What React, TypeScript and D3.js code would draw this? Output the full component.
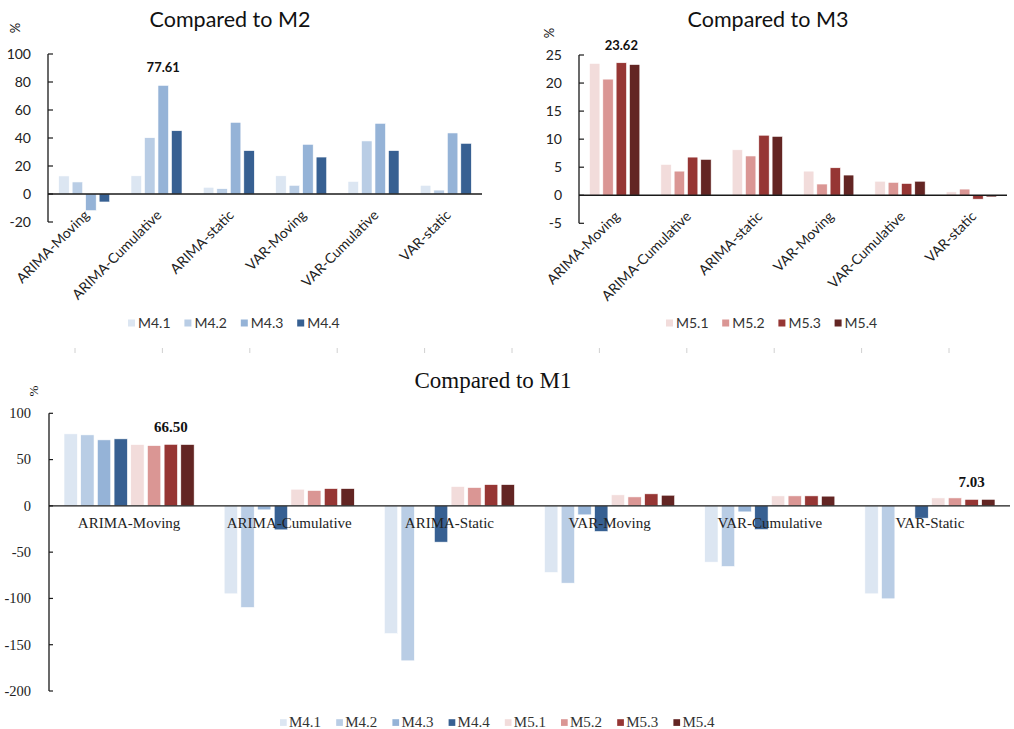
import React from 'react';
import * as d3 from 'd3';

const categoriesTop = ['ARIMA-Moving', 'ARIMA-Cumulative', 'ARIMA-static', 'VAR-Moving', 'VAR-Cumulative', 'VAR-static'];
const categoriesBottom = ['ARIMA-Moving', 'ARIMA-Cumulative', 'ARIMA-Static', 'VAR-Moving', 'VAR-Cumulative', 'VAR-Static'];
const seriesM4 = ['M4.1', 'M4.2', 'M4.3', 'M4.4'];
const seriesM5 = ['M5.1', 'M5.2', 'M5.3', 'M5.4'];

// Compared to M2
const m2_M41 = [12.9, 13.0, 4.8, 13.0, 9.0, 6.2];
const m2_M42 = [8.6, 40.2, 3.8, 6.2, 37.9, 2.8];
const m2_M43 = [-11.9, 77.61, 51.2, 35.5, 50.5, 43.6];
const m2_M44 = [-5.7, 45.2, 31.0, 26.4, 31.0, 36.2];

// Compared to M3
const m3_M51 = [23.5, 5.5, 8.1, 4.3, 2.5, 0.6];
const m3_M52 = [20.7, 4.3, 7.0, 2.0, 2.3, 1.1];
const m3_M53 = [23.62, 6.8, 10.7, 4.9, 2.1, -0.7];
const m3_M54 = [23.3, 6.4, 10.5, 3.6, 2.5, -0.3];

// Compared to M1
const m1_M41 = [77.8, -95.0, -138.0, -72.0, -60.8, -95.0];
const m1_M42 = [76.7, -109.8, -167.4, -83.5, -65.5, -100.4];
const m1_M43 = [71.3, -4.3, 0, -9.7, -6.5, 0];
const m1_M44 = [72.4, -25.9, -39.2, -27.7, -25.6, -13.3];
const m1_M51 = [66.2, 18.0, 20.9, 11.9, 10.8, 8.6];
const m1_M52 = [65.1, 16.6, 19.8, 9.7, 10.8, 8.6];
const m1_M53 = [66.5, 18.7, 23.0, 13.0, 10.8, 7.03];
const m1_M54 = [66.3, 18.7, 23.0, 11.5, 10.5, 7.1];

const ticksM2 = [-20, 0, 20, 40, 60, 80, 100];
const ticksM3 = [-5, 0, 5, 10, 15, 20, 25];
const ticksM1 = [-200, -150, -100, -50, 0, 50, 100];

const annotM2 = [{ series: 'M4.3', category: 'ARIMA-Cumulative', text: '77.61' }];
const annotM3 = [{ series: 'M5.3', category: 'ARIMA-Moving', text: '23.62' }];
const annotM1 = [
  { series: 'M5.3', category: 'ARIMA-Moving', text: '66.50' },
  { series: 'M5.3', category: 'VAR-Static', text: '7.03' },
];

const colorsM4 = ['#DCE6F2', '#B9CDE5', '#95B3D7', '#376092'];
const colorsM5 = ['#F2DCDB', '#DA9694', '#963634', '#632523'];

const SANS = 'Lato, "Open Sans", sans-serif';
const SERIF = '"Liberation Serif", "Times New Roman", serif';
const AXIS = '#1a1a1a';

type Panel = {
  title: string;
  titleX: number;
  titleY: number;
  categories: string[];
  series: string[];
  colors: string[];
  rows: number[][];
  ticks: number[];
  xRange: [number, number];
  yRange: [number, number];
  legendX: number;
  legendStep: number;
  legendY: number;
  annots: { series: string; category: string; text: string }[];
  pct: [number, number];
};

function TopPanel(p: Panel) {
  const x = d3.scaleBand<string>().domain(p.categories).range(p.xRange).paddingInner(0).paddingOuter(0);
  const xs = d3.scaleBand<string>().domain(p.series).range([0, x.bandwidth()]).paddingInner(0.22).paddingOuter(0.79);
  const y = d3.scaleLinear().domain([p.ticks[0], p.ticks[p.ticks.length - 1]]).range(p.yRange);
  const ax = p.xRange[0];
  return (
    <g>
      <text x={p.titleX} y={p.titleY} textAnchor="middle" fontFamily={SANS} fontSize={21.5} fill="#111">{p.title}</text>
      <text transform={`translate(${p.pct[0]},${p.pct[1]}) rotate(-90)`} textAnchor="middle" fontFamily={SANS} fontSize={13} fill="#111">%</text>
      {p.series.map((s, si) =>
        p.categories.map((c, ci) => {
          const v = p.rows[si][ci];
          const bx = (x(c) as number) + (xs(s) as number);
          return (
            <rect key={s + c} x={bx} width={xs.bandwidth()} y={Math.min(y(v), y(0))} height={Math.abs(y(v) - y(0))}
              fill={p.colors[si]} stroke="#fff" strokeWidth={0.6} />
          );
        })
      )}
      <line x1={ax} x2={ax} y1={y(p.ticks[0])} y2={y(p.ticks[p.ticks.length - 1])} stroke={AXIS} strokeWidth={1.3} />
      <line x1={ax} x2={p.xRange[1]} y1={y(0)} y2={y(0)} stroke={AXIS} strokeWidth={1.3} />
      {p.ticks.map(t => (
        <g key={t}>
          <line x1={ax} x2={ax + 5} y1={y(t)} y2={y(t)} stroke={AXIS} strokeWidth={1.2} />
          <text x={ax - 17} y={y(t)} dy="0.35em" textAnchor="end" fontFamily={SANS} fontSize={14} fill="#222">{t}</text>
        </g>
      ))}
      {p.categories.map(c => (
        <text key={c} transform={`translate(${(x(c) as number) + x.bandwidth() / 2 + 6},${y(0) + 22}) rotate(-45)`}
          textAnchor="end" fontFamily={SANS} fontSize={14} fill="#222">{c}</text>
      ))}
      {p.annots.map(a => {
        const si = p.series.indexOf(a.series);
        const ci = p.categories.indexOf(a.category);
        const cx = (x(a.category) as number) + (xs(a.series) as number) + xs.bandwidth() / 2;
        return (
          <text key={a.text} x={cx} y={y(p.rows[si][ci]) - 13} textAnchor="middle" fontFamily={SANS} fontWeight="bold" fontSize={13} fill="#111">{a.text}</text>
        );
      })}
      {p.series.map((s, i) => (
        <g key={s} transform={`translate(${p.legendX + i * p.legendStep},${p.legendY})`}>
          <rect x={0} y={-3.5} width={7} height={7} fill={p.colors[i]} />
          <text x={10} y={0} dy="0.36em" fontFamily={SANS} fontSize={14} fill="#333">{s}</text>
        </g>
      ))}
    </g>
  );
}

function BottomPanel() {
  const series = [...seriesM4, ...seriesM5];
  const colors = [...colorsM4, ...colorsM5];
  const rows = [m1_M41, m1_M42, m1_M43, m1_M44, m1_M51, m1_M52, m1_M53, m1_M54];
  const x = d3.scaleBand<string>().domain(categoriesBottom).range([49, 1010]).paddingInner(0).paddingOuter(0);
  const xs = d3.scaleBand<string>().domain(series).range([0, x.bandwidth()]).paddingInner(0.2).paddingOuter(0.9);
  const y = d3.scaleLinear().domain([ticksM1[0], ticksM1[ticksM1.length - 1]]).range([691, 413.3]);
  const ax = 49;
  return (
    <g>
      <text x={493} y={388} textAnchor="middle" fontFamily={SERIF} fontSize={23} fill="#111">Compared to M1</text>
      <text transform={`translate(38,391) rotate(-90)`} textAnchor="middle" fontFamily={SERIF} fontSize={13} fill="#111">%</text>
      {series.map((s, si) =>
        categoriesBottom.map((c, ci) => {
          const v = rows[si][ci];
          const bx = (x(c) as number) + (xs(s) as number);
          return (
            <rect key={s + c} x={bx} width={xs.bandwidth()} y={Math.min(y(v), y(0))} height={Math.abs(y(v) - y(0))}
              fill={colors[si]} stroke="#fff" strokeWidth={0.6} />
          );
        })
      )}
      <line x1={ax} x2={ax} y1={y(ticksM1[0])} y2={y(ticksM1[ticksM1.length - 1])} stroke={AXIS} strokeWidth={1.3} />
      <line x1={ax} x2={1010} y1={y(0)} y2={y(0)} stroke={AXIS} strokeWidth={1.3} />
      {ticksM1.map(t => (
        <g key={t}>
          <line x1={ax} x2={ax + 4} y1={y(t)} y2={y(t)} stroke={AXIS} strokeWidth={1.2} />
          <text x={ax - 18} y={y(t)} dy="0.33em" textAnchor="end" fontFamily={SERIF} fontSize={14.5} fill="#222">{t}</text>
        </g>
      ))}
      {categoriesBottom.map(c => (
        <text key={c} x={(x(c) as number) + x.bandwidth() / 2} y={y(0) + 22} textAnchor="middle" fontFamily={SERIF} fontSize={15} fill="#222">{c}</text>
      ))}
      {annotM1.map(a => {
        const si = series.indexOf(a.series);
        const ci = categoriesBottom.indexOf(a.category);
        const cx = (x(a.category) as number) + (xs(a.series) as number) + xs.bandwidth() / 2;
        return (
          <text key={a.text} x={cx} y={y(rows[si][ci]) - 12} textAnchor="middle" fontFamily={SERIF} fontWeight="bold" fontSize={15} fill="#111">{a.text}</text>
        );
      })}
      {series.map((s, i) => (
        <g key={s} transform={`translate(${280 + i * 56.2},722.5)`}>
          <rect x={0} y={-3.3} width={6.7} height={6.7} fill={colors[i]} />
          <text x={9} y={0} dy="0.33em" fontFamily={SERIF} fontSize={15} fill="#333">{s}</text>
        </g>
      ))}
    </g>
  );
}

const dividerTicks = d3.range(11);

export default function App() {
  const dx = d3.scaleLinear().domain([0, 10]).range([75, 949]);
  return (
    <svg width={1014} height={729} style={{ position: 'absolute', left: 0, top: 0, background: '#fff' }}>
      <rect x={0} y={0} width={1014} height={729} fill="#fff" />
      <TopPanel title="Compared to M2" titleX={230} titleY={27} categories={categoriesTop} series={seriesM4} colors={colorsM4}
        rows={[m2_M41, m2_M42, m2_M43, m2_M44]} ticks={ticksM2} xRange={[48, 482]} yRange={[222, 54]}
        legendX={128} legendStep={56.4} legendY={323} annots={annotM2} pct={[20, 28]} />
      <TopPanel title="Compared to M3" titleX={768} titleY={27} categories={categoriesTop} series={seriesM5} colors={colorsM5}
        rows={[m3_M51, m3_M52, m3_M53, m3_M54]} ticks={ticksM3} xRange={[579, 1007]} yRange={[223.3, 55]}
        legendX={666} legendStep={56.2} legendY={323} annots={annotM3} pct={[554, 33]} />
      {dividerTicks.map(i => (
        <line key={i} x1={dx(i)} x2={dx(i)} y1={348} y2={353} stroke="#d0d0d0" strokeWidth={1} />
      ))}
      <BottomPanel />
    </svg>
  );
}
